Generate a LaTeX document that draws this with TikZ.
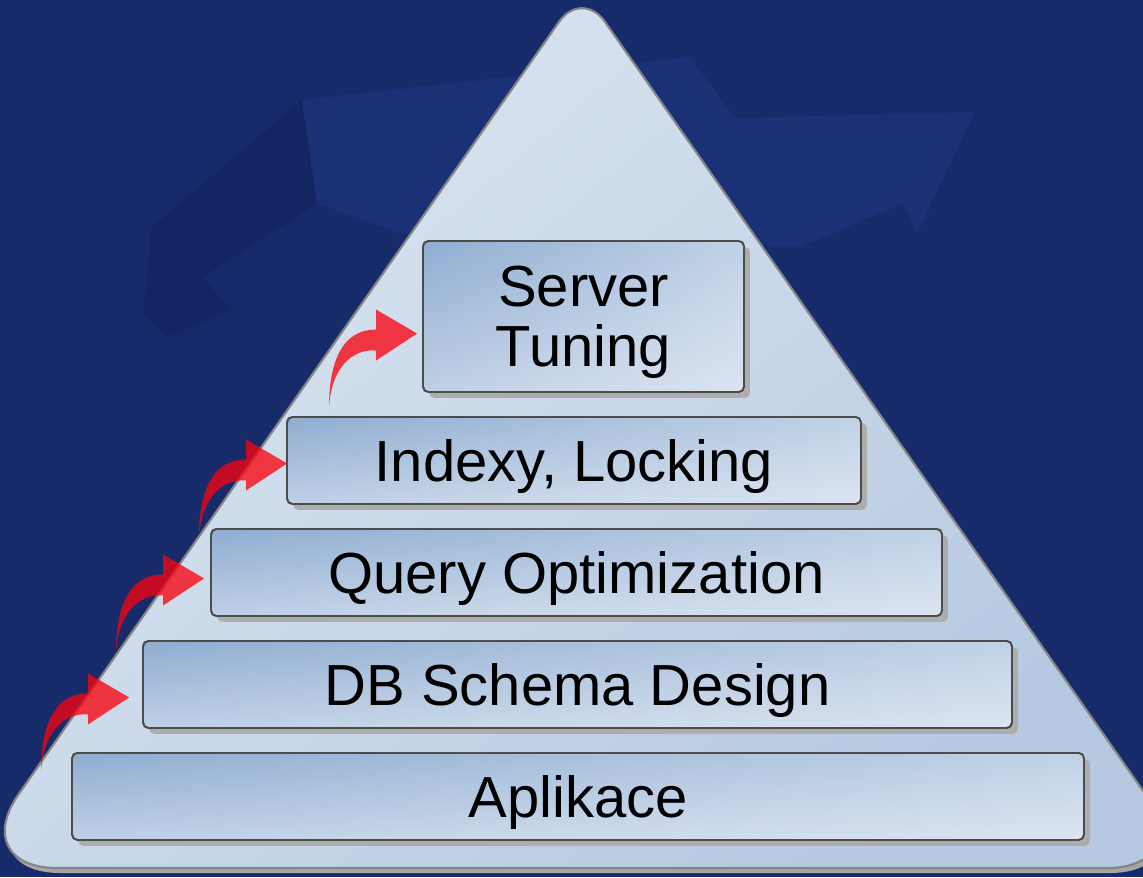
\documentclass[tikz,border=0pt]{standalone}
\usepackage{fontspec}
\setmainfont{Liberation Sans}
\usepackage{tikz}
\usetikzlibrary{positioning, calc, shadows, fadings}
\definecolor{bgblue}{RGB}{23,43,107}
\definecolor{bglight}{RGB}{26,49,117}
\definecolor{bgdark}{RGB}{20,38,98}
\definecolor{trilight}{RGB}{220,230,240}
\definecolor{tridark}{RGB}{182,201,225}
\definecolor{boxdark}{RGB}{143,173,210}
\definecolor{boxlight}{RGB}{192,208,229}
\definecolor{arrowred}{RGB}{248,3,15}
\tikzfading[name=fade in right, left color=transparent!100, right color=transparent!0]
\tikzstyle{tier} = [rectangle, rounded corners=3pt, minimum height=1.74cm, outer sep=0pt, text centered, align=center, text depth=0pt, draw=black!70, line width=1pt, top color=boxdark, bottom color=boxlight, drop shadow={shadow xshift=0.12cm, shadow yshift=-0.12cm, fill=black!32, opacity=1}, postaction={fill=white, fill opacity=0.45, path fading=fade in right}, postaction={draw=black!70, line width=1pt}, font=\fontsize{33}{34}\selectfont]
\tikzstyle{pyramid} = [draw=black!48, line width=1.2pt, top color=trilight, bottom color=tridark, shading angle=40, drop shadow={shadow xshift=0.06cm, shadow yshift=-0.1cm, fill=black!35, opacity=1}]
\tikzstyle{redarrow} = [fill=arrowred, fill opacity=0.77, draw=none]
\newcommand{\liftarrow}[1]{%
  \fill[redarrow, shift={(#1)}] (-88,74) .. controls (-88,20) and (-70,-4) .. (-41,-4)
    -- (-41,-24) -- (0,0) -- (-41,27) -- (-41,17)
    .. controls (-65,15) and (-86,35) .. (-88,74) -- cycle;}

\begin{document}
\begin{tikzpicture}[x=0.02cm, y=-0.02cm, node distance=0.5cm]
    % Background
    \fill[bgblue] (0,0) rectangle (1143,877);
    \useasboundingbox (0,0) rectangle (1143,877);
    \clip (0,0) rectangle (1143,877);
    \fill[bgdark] (152,227) -- (302,100) -- (317,203) -- (203,277) -- (230,310) -- (167,337) -- (143,313) -- cycle;
    \fill[bglight] (302,100) -- (690,57) -- (735,118) -- (975,112) -- (917,233) -- (903,203) -- (800,247) -- (400,233) -- (317,203) -- cycle;

    % Pyramid
    \path[pyramid] (582,868) [rounded corners=1.8cm] -- (-33,868) [rounded corners=0.8cm] -- (582,-11) [rounded corners=1.8cm] -- (1197,868) -- cycle;

    % Tiers
    \node (srv) [tier, minimum width=6.42cm, minimum height=3.02cm] at (583.5,316.5) {Server\\Tuning};
    \node (idx) [tier, minimum width=11.48cm, below=of srv, xshift=-0.19cm] {Indexy, Locking};
    \node (qry) [tier, minimum width=14.62cm, below=of idx, xshift=0.05cm] {Query Optimization};
    \node (dbs) [tier, minimum width=17.38cm, below=of qry, xshift=0.02cm] {DB Schema Design};
    \node (apl) [tier, minimum width=20.24cm, below=of dbs, xshift=0.01cm] {Aplikace};

    % Arrow tips
    \coordinate (tipsrv) at ($(srv.west)+(-6,17)$);
    \coordinate (tipidx) at ($(idx.west)+(0,3)$);
    \coordinate (tipqry) at ($(qry.west)+(-7,6)$);
    \coordinate (tipdbs) at ($(dbs.west)+(-14,13)$);

    % Arrows
    \liftarrow{tipdbs}
    \liftarrow{tipqry}
    \liftarrow{tipidx}
    \liftarrow{tipsrv}
\end{tikzpicture}
\end{document}
